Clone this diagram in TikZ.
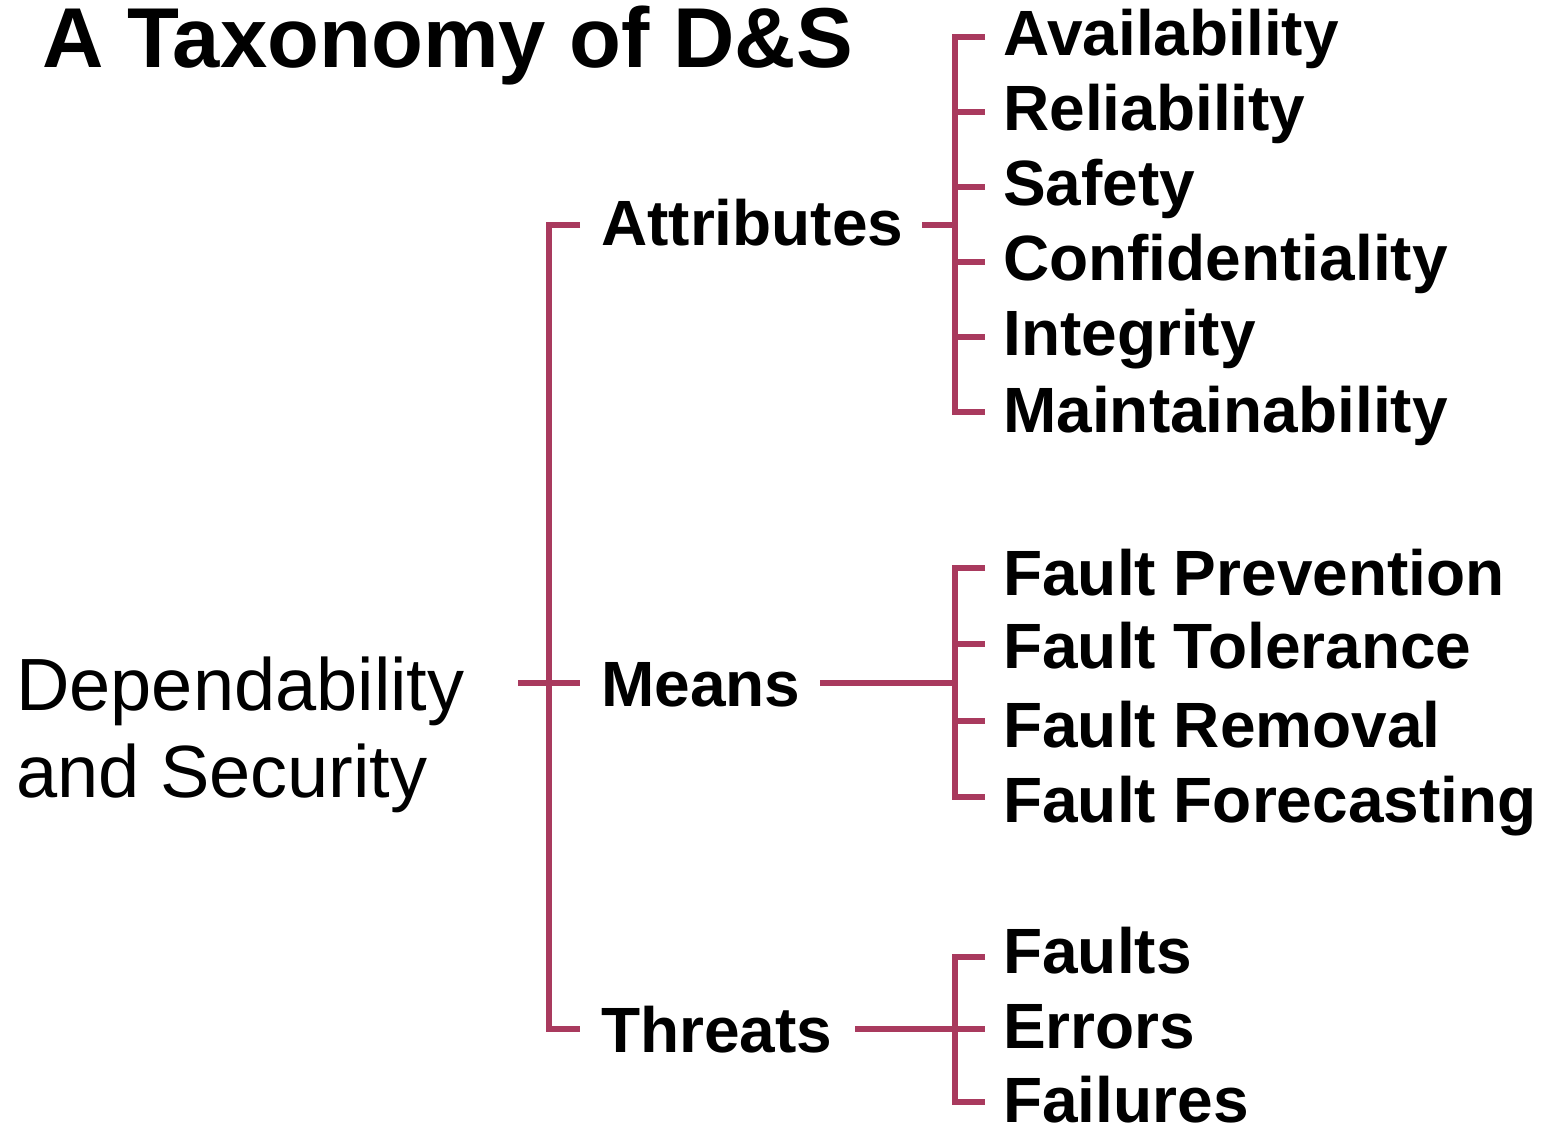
\documentclass[tikz,border=0pt]{standalone}
\usepackage{fontspec}
\setmainfont{Liberation Sans}
\definecolor{brk}{RGB}{169,58,94}
\begin{document}
\begin{tikzpicture}[x=1pt,y=-1pt,
  leaf/.style={anchor=base west, inner sep=0pt, font=\bfseries\fontsize{64}{76}\selectfont},
  mid/.style={anchor=base west, inner sep=0pt, font=\bfseries\fontsize{64}{76}\selectfont},
  conn/.style={draw=brk, line width=6pt, line join=miter}]
\useasboundingbox (0,0) rectangle (1546,1127);

% title and root
\node[anchor=base west, inner sep=0pt, font=\bfseries\fontsize{85}{100}\selectfont] (title) at (42,67) {A Taxonomy of D\&S};
\node[anchor=base west, inner sep=0pt, align=left, font=\fontsize{74}{87}\selectfont] (root) at (16,797) {Dependability\\and Security};

% level 1
\node[mid] (attr) at (601,245) {Attributes};
\node[mid] (means) at (601,706) {Means};
\node[mid] (threats) at (601,1052) {Threats};

% attributes
\node[leaf] (av) at (1003,55) {Availability};
\node[leaf] (re) at (1003,130) {Reliability};
\node[leaf] (sa) at (1003,205) {Safety};
\node[leaf] (co) at (1003,280) {Confidentiality};
\node[leaf] (in) at (1003,355) {Integrity};
\node[leaf] (ma) at (1003,432) {Maintainability};

% means
\node[leaf] (fp) at (1003,595) {Fault Prevention};
\node[leaf] (ft) at (1003,668) {Fault Tolerance};
\node[leaf] (fr) at (1003,747) {Fault Removal};
\node[leaf] (ff) at (1003,822) {Fault Forecasting};

% threats
\node[leaf] (fa) at (1003,973) {Faults};
\node[leaf] (er) at (1003,1048) {Errors};
\node[leaf] (fl) at (1003,1122) {Failures};

% junction coordinates
\coordinate (rootend) at (518,683);
\coordinate (attrin) at (580,225);
\coordinate (meansin) at (580,683);
\coordinate (threatsin) at (580,1029);

\coordinate (attrout) at (922,225);
\coordinate (meansout) at (820,683);
\coordinate (threatsout) at (855,1029);

% main bracket
\draw[conn] (attrin) -- (549,225) -- (549,1029) -- (threatsin);
\draw[conn] (rootend) -- (meansin);

% attributes bracket
\draw[conn] (attrout) -- (955,225);
\draw[conn] (985,37) -- (955,37) -- (955,412) -- (985,412);
\foreach \y in {112,187,262,337} \draw[conn] (955,\y) -- (985,\y);

% means bracket
\draw[conn] (meansout) -- (955,683);
\draw[conn] (985,568) -- (955,568) -- (955,797) -- (985,797);
\foreach \y in {644,721} \draw[conn] (955,\y) -- (985,\y);

% threats bracket
\draw[conn] (threatsout) -- (985,1029);
\draw[conn] (985,957) -- (955,957) -- (955,1102) -- (985,1102);
\end{tikzpicture}
\end{document}
